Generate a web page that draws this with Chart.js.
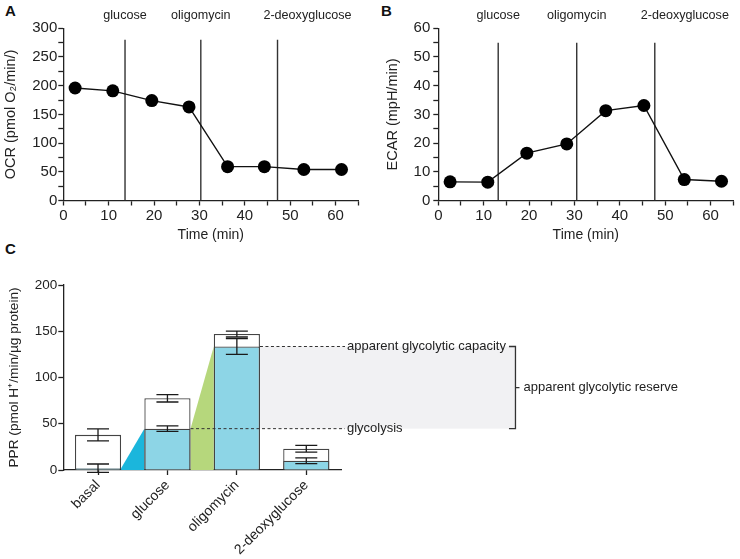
<!DOCTYPE html>
<html>
<head>
<meta charset="utf-8">
<script src="https://cdn.jsdelivr.net/npm/chart.js@4.4.1/dist/chart.umd.min.js"></script>
<style>
  body { margin: 0; background: #fff; width: 740px; height: 559px; position: relative; overflow: hidden;
         font-family: "Liberation Sans", Arial, Helvetica, sans-serif; }
  .panel { position: absolute; }
  .letter { position: absolute; font-weight: bold; font-size: 15px; line-height: 15px; color: #111; }
</style>
</head>
<body>
<div class="letter" style="left:5px;top:3px">A</div>
<div class="letter" style="left:381px;top:3px">B</div>
<div class="letter" style="left:5px;top:241px">C</div>
<div class="panel" style="left:0;top:0;width:370px;height:244px"><canvas id="ocr"></canvas></div>
<div class="panel" style="left:370px;top:0;width:370px;height:244px"><canvas id="ecar"></canvas></div>
<div class="panel" style="left:0;top:262px;width:740px;height:297px"><canvas id="ppr"></canvas></div>
<script>
// panel A / B : time courses
const timeA = [2.6, 10.9, 19.5, 27.7, 36.2, 44.3, 53.0, 61.3];
const ocr   = [196, 191, 174, 163, 59, 59, 54, 54];
const timeB = [2.6, 10.9, 19.5, 28.3, 36.9, 45.3, 54.2, 62.4];
const ecar  = [6.5, 6.4, 16.5, 19.7, 31.3, 33.1, 7.3, 6.7];
const injectionsA = [13.6, 30.3, 47.2];
const injectionsB = [13.2, 30.5, 47.7];
const injectionNames = ['glucose', 'oligomycin', '2-deoxyglucose'];

// panel C : proton production rate
const categories = ['basal', 'glucose', 'oligomycin', '2-deoxyglucose'];
const pprTotal    = [38, 77.5, 147, 23];
const pprTotalErr = [6.5, 4, 3.2, 3.7];
const pprGlyco    = [2, 44.7, 133.5, 10];
const pprGlycoErr = [4.5, 3, 8.5, 3.2];

const FONT = '"Liberation Sans", Arial, Helvetica, sans-serif';
const INK = '#222';
Chart.defaults.font.family = FONT;
Chart.defaults.color = INK;

function axisBase(fontSize) {
  return {
    grid: { display: true, drawOnChartArea: false, drawTicks: true, tickLength: 5, tickColor: INK, tickWidth: 1.3 },
    border: { display: true, color: INK, width: 1.3 },
    ticks: { font: { size: fontSize }, color: INK, autoSkip: false, maxRotation: 0 }
  };
}

// injection labels above the plot
const injectionLabels = {
  id: 'injectionLabels',
  afterDraw(chart, args, opts) {
    const ctx = chart.ctx, x = chart.scales.x;
    ctx.save();
    ctx.font = '12.6px ' + FONT;
    ctx.fillStyle = INK;
    ctx.textAlign = 'center';
    ctx.textBaseline = 'middle';
    opts.times.forEach((t, i) => {
      const shift = i === 2 ? 30 : 0; // last label sits right of its line
      ctx.fillText(injectionNames[i], x.getPixelForValue(t) + shift, 16);
    });
    ctx.restore();
  }
};

function timeChart(id, times, values, injections, yMax, yStep, lineTop, yTitle, pad) {
  const datasets = [{
    data: times.map((t, i) => ({ x: t, y: values[i] })),
    showLine: true, borderColor: '#111', borderWidth: 1.4,
    pointRadius: 6.5, pointBackgroundColor: '#000', pointBorderColor: '#000', pointBorderWidth: 0
  }];
  injections.forEach(t => datasets.push({
    data: [{ x: t, y: 0 }, { x: t, y: lineTop }],
    showLine: true, borderColor: '#333', borderWidth: 1.4, pointRadius: 0
  }));
  const xs = axisBase(15), ys = axisBase(15);
  return new Chart(document.getElementById(id), {
    type: 'scatter',
    data: { datasets },
    options: {
      responsive: true, maintainAspectRatio: false, animation: false,
      layout: { padding: { top: 28.3, right: pad.right, left: 0, bottom: 0 } },
      plugins: { legend: { display: false }, tooltip: { enabled: false }, injectionLabels: { times: injections } },
      scales: {
        x: Object.assign(xs, {
          type: 'linear', min: 0, max: 65,
          ticks: Object.assign(xs.ticks, { stepSize: 5, padding: 1, callback: v => v % 10 === 0 ? v : '' }),
          title: { display: true, text: 'Time (min)', font: { size: 14 }, color: INK, padding: 0 },
          afterFit: s => { s.height = 43.5; }
        }),
        y: Object.assign(ys, {
          min: 0, max: yMax,
          ticks: Object.assign(ys.ticks, { stepSize: yStep / 2, padding: pad.tickPad, callback: v => v % yStep === 0 ? v : '' }),
          title: { display: true, text: yTitle, font: { size: 14.5 }, color: INK, padding: { top: pad.titleTop, bottom: 0 } },
          afterFit: s => { s.width = pad.axisX; }
        })
      }
    },
    plugins: [injectionLabels]
  });
}

timeChart('ocr', timeA, ocr, injectionsA, 300, 50, 280, 'OCR (pmol O\u2082/min/)',
  { right: 11.7, tickPad: 1, titleTop: 2, axisX: 63.3 });
timeChart('ecar', timeB, ecar, injectionsB, 60, 10, 55, 'ECAR (mpH/min)',
  { right: 6.7, tickPad: 3, titleTop: 14, axisX: 68.3 });

// panel C annotations: connecting wedges, reserve band, dashed guides, bracket, error bars
const TEXT_CAP = 'apparent glycolytic capacity';
const pprAnnot = {
  id: 'pprAnnot',
  geometry(chart) {
    const ctx = chart.ctx, y = chart.scales.y, area = chart.chartArea;
    ctx.font = '13px ' + FONT;
    const textX = area.right + 6;
    const textEnd = textX + ctx.measureText(TEXT_CAP).width;
    return {
      bars: chart.getDatasetMeta(0).data,
      yCap: y.getPixelForValue(pprGlyco[2]),
      yGly: y.getPixelForValue(pprGlyco[1]),
      y0: y.getPixelForValue(0),
      textX, bracketX: textEnd + 9.5, tickStart: textEnd + 3
    };
  },
  beforeDatasetsDraw(chart) {
    const ctx = chart.ctx, y = chart.scales.y;
    ctx.save();
    const g = this.geometry(chart);
    const right = el => el.x + el.width / 2, left = el => el.x - el.width / 2;
    // reserve band
    ctx.fillStyle = '#f1f1f3';
    ctx.fillRect(right(g.bars[2]), g.yCap, g.bracketX - right(g.bars[2]), g.yGly - g.yCap);
    // glucose response wedge
    ctx.fillStyle = '#1bb6dc';
    ctx.beginPath();
    ctx.moveTo(right(g.bars[0]), y.getPixelForValue(pprGlyco[0]));
    ctx.lineTo(left(g.bars[1]), g.yGly);
    ctx.lineTo(left(g.bars[1]), g.y0);
    ctx.lineTo(right(g.bars[0]), g.y0);
    ctx.closePath();
    ctx.fill();
    // oligomycin response wedge
    ctx.fillStyle = '#b6d77c';
    ctx.beginPath();
    ctx.moveTo(right(g.bars[1]), g.yGly);
    ctx.lineTo(left(g.bars[2]), g.yCap);
    ctx.lineTo(left(g.bars[2]), g.y0);
    ctx.lineTo(right(g.bars[1]), g.y0);
    ctx.closePath();
    ctx.fill();
    ctx.restore();
  },
  afterDatasetsDraw(chart) {
    const ctx = chart.ctx, y = chart.scales.y, area = chart.chartArea;
    ctx.save();
    const g = this.geometry(chart);
    const right = el => el.x + el.width / 2;
    // dashed guides
    ctx.strokeStyle = '#333';
    ctx.lineWidth = 1;
    ctx.setLineDash([3, 2.5]);
    ctx.beginPath();
    ctx.moveTo(right(g.bars[1]), g.yGly); ctx.lineTo(area.right + 4, g.yGly);
    ctx.moveTo(right(g.bars[2]), g.yCap); ctx.lineTo(area.right + 4, g.yCap);
    ctx.stroke();
    ctx.setLineDash([]);
    // labels
    ctx.fillStyle = INK;
    ctx.textAlign = 'left';
    ctx.textBaseline = 'middle';
    ctx.fillText(TEXT_CAP, g.textX, g.yCap);
    ctx.fillText('glycolysis', g.textX, g.yGly);
    // bracket
    const mid = (g.yCap + g.yGly) / 2;
    ctx.strokeStyle = '#333';
    ctx.lineWidth = 1.3;
    ctx.beginPath();
    ctx.moveTo(g.tickStart, g.yCap); ctx.lineTo(g.bracketX, g.yCap);
    ctx.lineTo(g.bracketX, g.yGly); ctx.lineTo(g.tickStart, g.yGly);
    ctx.moveTo(g.bracketX, mid); ctx.lineTo(g.bracketX + 4, mid);
    ctx.stroke();
    ctx.fillText('apparent glycolytic reserve', g.bracketX + 8, mid);
    // error bars
    ctx.strokeStyle = '#1a1a1a';
    ctx.lineWidth = 1.3;
    [[0, pprGlyco, pprGlycoErr], [1, pprTotal, pprTotalErr]].forEach(([di, vals, errs]) => {
      chart.getDatasetMeta(di).data.forEach((el, i) => {
        const hi = y.getPixelForValue(vals[i] + errs[i]);
        const lo = y.getPixelForValue(vals[i] - errs[i]);
        ctx.beginPath();
        ctx.moveTo(el.x, hi); ctx.lineTo(el.x, lo);
        ctx.moveTo(el.x - 11, hi); ctx.lineTo(el.x + 11, hi);
        ctx.moveTo(el.x - 11, lo); ctx.lineTo(el.x + 11, lo);
        ctx.stroke();
      });
    });
    ctx.restore();
  }
};

const cx = axisBase(14), cy = axisBase(13.5);
new Chart(document.getElementById('ppr'), {
  type: 'bar',
  data: {
    labels: categories,
    datasets: [
      { data: pprGlyco, backgroundColor: '#8dd5e6', borderColor: '#444', borderWidth: 1.3,
        grouped: false, order: 0, barPercentage: 0.665, categoryPercentage: 1 },
      { data: pprTotal, backgroundColor: '#ffffff', borderColor: '#444', borderWidth: 1.3,
        grouped: false, order: 1, barPercentage: 0.665, categoryPercentage: 1 }
    ]
  },
  options: {
    responsive: true, maintainAspectRatio: false, animation: false,
    layout: { padding: { top: 23, right: 399, left: 0, bottom: 0 } },
    plugins: { legend: { display: false }, tooltip: { enabled: false } },
    scales: {
      x: Object.assign(cx, {
        grid: Object.assign(cx.grid, { offset: false }),
        ticks: Object.assign(cx.ticks, { minRotation: 45, maxRotation: 45, padding: 2 }),
        afterFit: s => { s.height = 89; }
      }),
      y: Object.assign(cy, {
        min: 0, max: 200,
        ticks: Object.assign(cy.ticks, { stepSize: 50, padding: 1 }),
        title: { display: true, text: 'PPR (pmol H\u207A/min/\u00B5g protein)', font: { size: 13.7 }, color: INK,
                 padding: { top: 5.8, bottom: 0 } },
        afterFit: s => { s.width = 63.3; }
      })
    }
  },
  plugins: [pprAnnot]
});
</script>
</body>
</html>
